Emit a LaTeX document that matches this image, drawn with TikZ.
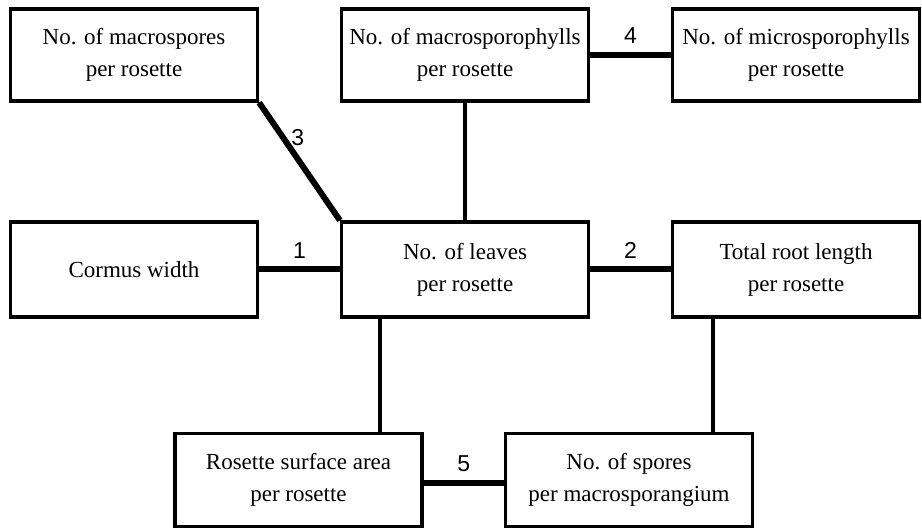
\documentclass[tikz,border=0pt]{standalone}
\usepackage{fontspec}
\setmainfont{Liberation Serif}
\newfontfamily\numfont{Liberation Sans}
\begin{document}
\begin{tikzpicture}[x=1pt,y=-1pt,
  box/.style={draw=black,line width=3.2pt,fill=white,minimum width=247pt,minimum height=92pt,
    inner sep=0pt,align=center,font=\fontsize{23}{32}\selectfont},
  thickline/.style={line width=6pt},
  thinline/.style={line width=3.2pt},
  lab/.style={font=\numfont\fontsize{23}{24}\selectfont,inner sep=1pt}]
\useasboundingbox (0,0) rectangle (922,529);
\node[box] (macrospores) at (134,55) {No. of macrospores\\per rosette};
\node[box] (macrosporophylls) at (465,55) {No. of macrosporophylls\\per rosette};
\node[box] (microsporophylls) at (796,55) {No. of microsporophylls\\per rosette};
\node[box,minimum height=95pt] (cormus) at (134,269.5) {Cormus width};
\node[box,minimum height=95pt] (leaves) at (465,269.5) {No. of leaves\\per rosette};
\node[box,minimum height=95pt] (totalroot) at (796,269.5) {Total root length\\per rosette};
\node[box,minimum height=93pt] (rosette) at (298.5,480) {Rosette surface area\\per rosette};
\node[box,minimum height=93pt] (spores) at (629,480) {No. of spores\\per macrosporangium};

\draw[thickline] (macrospores.south east) -- node[lab,pos=0.3,right=4pt]{3} (leaves.north west);
\draw[thickline] (macrosporophylls.east) -- node[lab,above=7pt]{4} (microsporophylls.west);
\draw[thickline] (cormus.east) -- node[lab,above=7pt]{1} (leaves.west);
\draw[thickline] (leaves.east) -- node[lab,above=7pt]{2} (totalroot.west);
\draw[thickline] ([yshift=-3pt]rosette.east) -- node[lab,above=7pt]{5} ([yshift=-3pt]spores.west);
\draw[thinline] (macrosporophylls.south) -- (leaves.north);
\draw[thinline] ([xshift=-85pt]leaves.south) -- ([xshift=-85pt]leaves.south |- rosette.north);
\draw[thinline] ([xshift=-83pt]totalroot.south) -- ([xshift=-83pt]totalroot.south |- spores.north);
\end{tikzpicture}
\end{document}
